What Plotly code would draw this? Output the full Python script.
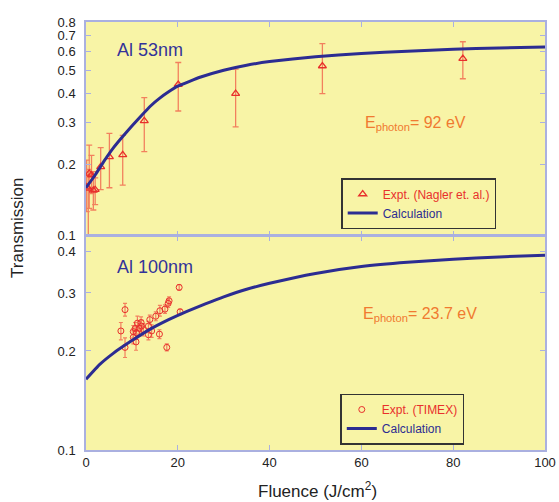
import plotly.graph_objects as go
from plotly.subplots import make_subplots
import math

# ---- data: Al 53 nm, E_photon = 92 eV ----
top_fluence = [0.15, 0.5, 0.7, 1.2, 1.6, 2.0, 3.2, 5.1, 8.0, 12.7, 20.1, 32.6, 51.5, 82.1]
top_trans   = [0.160, 0.158, 0.183, 0.180, 0.155, 0.156, 0.195, 0.215, 0.219, 0.305, 0.435, 0.398, 0.521, 0.560]
top_hi      = [0.208, 0.190, 0.241, 0.218, 0.186, 0.175, 0.235, 0.270, 0.265, 0.383, 0.539, 0.505, 0.648, 0.660]
top_lo      = [0.126, 0.100, 0.130, 0.150, 0.128, 0.135, 0.156, 0.159, 0.163, 0.226, 0.336, 0.288, 0.398, 0.460]

top_calc_f = [0, 2, 4, 6, 8, 10, 12, 14, 16, 18, 20, 25, 30, 35, 40, 50, 60, 70, 80, 90, 100]
top_calc_t = [0.159, 0.180, 0.207, 0.235, 0.262, 0.290, 0.320, 0.352, 0.380, 0.405, 0.428,
              0.468, 0.500, 0.525, 0.544, 0.570, 0.589, 0.602, 0.613, 0.621, 0.627]

# ---- data: Al 100 nm, E_photon = 23.7 eV ----
bot_fluence = [8.5, 7.6, 8.5, 10.3, 11.0, 11.6, 10.7, 11.2, 12.1, 10.3, 10.9, 12.5, 13.6, 13.9,
               14.3, 13.6, 16.0, 16.1, 17.2, 17.9, 18.1, 17.6, 20.3, 20.5, 15.2, 12.0]
bot_trans   = [0.267, 0.230, 0.205, 0.220, 0.227, 0.234, 0.234, 0.243, 0.238, 0.229, 0.213, 0.232,
               0.224, 0.249, 0.230, 0.238, 0.225, 0.265, 0.268, 0.279, 0.284, 0.205, 0.312, 0.263,
               0.255, 0.244]
bot_err     = [0.012, 0.014, 0.014, 0.010, 0.010, 0.012, 0.010, 0.012, 0.010, 0.010, 0.012, 0.010,
               0.008, 0.008, 0.010, 0.008, 0.007, 0.010, 0.008, 0.008, 0.008, 0.005, 0.006, 0.005,
               0.008, 0.010]

bot_calc_f = [0, 3, 6, 10, 14, 18, 22, 26, 30, 35, 40, 50, 60, 70, 80, 90, 100]
bot_calc_t = [0.164, 0.182, 0.197, 0.215, 0.233, 0.249, 0.264, 0.278, 0.292, 0.308, 0.321,
              0.344, 0.361, 0.372, 0.380, 0.386, 0.391]

top_ticks = [0.1, 0.2, 0.3, 0.4, 0.5, 0.6, 0.7, 0.8]
bot_ticks = [0.1, 0.2, 0.3, 0.4]
x_ticks = [0, 20, 40, 60, 80, 100]

RED = "#e8302c"
ERR = "#f2805e"
BLUE = "#2c2c92"
ORANGE = "#f07a30"
FRAME = "#aab0e0"
BG = "#f8f4a6"
FONT = "Liberation Sans, Arial, sans-serif"

fig = make_subplots(rows=2, cols=1, shared_xaxes=True, vertical_spacing=0)

fig.add_trace(go.Scatter(
    x=top_fluence, y=top_trans, mode="markers",
    marker=dict(symbol="triangle-up-open", size=7, color=RED, line=dict(width=1.3, color=RED)),
    error_y=dict(type="data", symmetric=False,
                 array=[h - v for h, v in zip(top_hi, top_trans)],
                 arrayminus=[v - l for v, l in zip(top_trans, top_lo)],
                 color=ERR, thickness=1.3, width=3),
    name=f"<span style='color:{RED}'>Expt. (Nagler et. al.)</span>", legend="legend"), row=1, col=1)
fig.add_trace(go.Scatter(
    x=top_calc_f, y=top_calc_t, mode="lines", line=dict(color=BLUE, width=3, shape="spline", smoothing=0.4),
    name=f"<span style='color:{BLUE}'>Calculation</span>", legend="legend"), row=1, col=1)

fig.add_trace(go.Scatter(
    x=bot_fluence, y=bot_trans, mode="markers",
    marker=dict(symbol="circle-open", size=6, color=RED, line=dict(width=1, color=RED)),
    error_y=dict(type="data", array=bot_err, color=ERR, thickness=1.2, width=2),
    name=f"<span style='color:{RED}'>Expt. (TIMEX)</span>", legend="legend2"), row=2, col=1)
fig.add_trace(go.Scatter(
    x=bot_calc_f, y=bot_calc_t, mode="lines", line=dict(color=BLUE, width=3, shape="spline", smoothing=0.4),
    name=f"<span style='color:{BLUE}'>Calculation</span>", legend="legend2"), row=2, col=1)

axis_common = dict(showline=True, linecolor=FRAME, linewidth=1.5, mirror="ticks",
                   ticks="inside", ticklen=5, tickcolor=FRAME, tickwidth=1.2,
                   showgrid=False, zeroline=False, automargin=False,
                   tickfont=dict(family=FONT, size=13, color="#222"))

fig.update_xaxes(range=[0, 100], tickvals=x_ticks, **axis_common)
fig.update_xaxes(showticklabels=False, row=1, col=1)
fig.update_yaxes(type="log", **axis_common, ticklabelstandoff=6)
fig.update_yaxes(range=[-1, math.log10(0.8)], tickvals=top_ticks,
                 ticktext=[str(t) for t in top_ticks], domain=[0.5016, 1], row=1, col=1)
fig.update_yaxes(range=[-1, math.log10(0.447)], tickvals=bot_ticks,
                 ticktext=[str(t) for t in bot_ticks], domain=[0, 0.5], row=2, col=1)

legend_common = dict(bgcolor=BG, bordercolor="#333", borderwidth=1.5,
                     font=dict(family=FONT, size=12), tracegroupgap=0,
                     xanchor="left", yanchor="top", itemwidth=30)
fig.update_layout(
    width=559, height=502,
    margin=dict(l=86, r=14, t=22, b=52),
    paper_bgcolor="white", plot_bgcolor=BG,
    font=dict(family=FONT),
    showlegend=True,
    legend=dict(x=0.556, y=0.6355, **legend_common),
    legend2=dict(x=0.554, y=0.132, **legend_common),
)

annots = [
    dict(text="Al 53nm", x=0.063, y=0.9346, xanchor="left", yanchor="middle",
         font=dict(size=18, color="#333399")),
    dict(text="Al 100nm", x=0.063, y=0.4276, xanchor="left", yanchor="middle",
         font=dict(size=18, color="#333399")),
    dict(text="E<sub>photon</sub>= 92 eV", x=0.6035, y=0.762, xanchor="left", yanchor="middle",
         font=dict(size=16, color=ORANGE)),
    dict(text="E<sub>photon</sub>= 23.7 eV", x=0.600, y=0.316, xanchor="left", yanchor="middle",
         font=dict(size=16, color=ORANGE)),
    dict(text="Transmission", x=-0.148, y=0.519, xanchor="center", yanchor="middle",
         textangle=-90, font=dict(size=17, color="#222")),
    dict(text="Fluence (J/cm<sup>2</sup>)", x=0.505, y=-0.093, xanchor="center", yanchor="middle",
         font=dict(size=17, color="#222")),
]
for a in annots:
    fig.add_annotation(xref="paper", yref="paper", showarrow=False, font_family=FONT, **a)

# remove the default 8px page margin so the figure fills the window exactly
fig.write_html("out.html", config={"displayModeBar": False},
               post_script="document.body.style.margin='0';document.body.style.overflow='hidden';")
